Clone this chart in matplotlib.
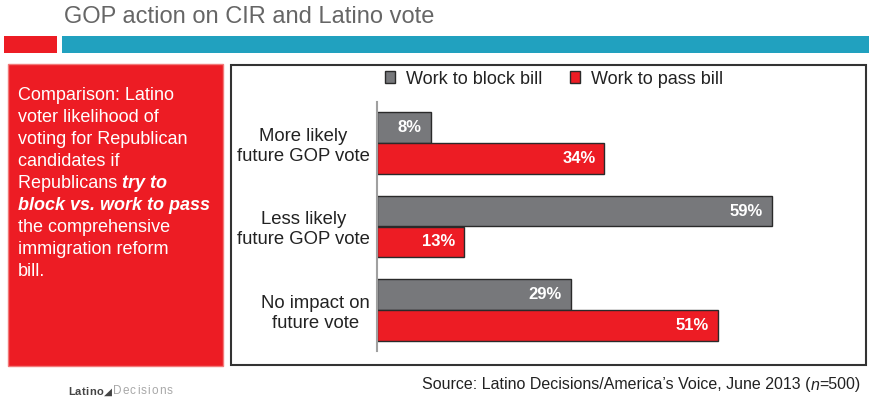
import matplotlib.pyplot as plt
from matplotlib.patches import Rectangle
import numpy as np

plt.rcParams['font.family'] = ['Liberation Sans', 'DejaVu Sans']

categories = ['More likely\nfuture GOP vote', 'Less likely\nfuture GOP vote', 'No impact on\nfuture vote']
block_vals = [8, 59, 29]
pass_vals = [34, 13, 51]
series_names = ['Work to block bill', 'Work to pass bill']

RED = '#ED1C24'
GREY = '#77787B'
TEAL = '#21A1BF'

W, H = 870, 400
fig = plt.figure(figsize=(8.7, 4.0), dpi=100)

# background axes in pixel coordinates (origin top-left)
bg = fig.add_axes([0, 0, 1, 1])
bg.set_xlim(0, W)
bg.set_ylim(H, 0)
bg.axis('off')
bg.set_zorder(0)

# header
bg.text(64, 17, 'GOP action on CIR and Latino vote', fontsize=17,
        color='#666666', va='center', ha='left')
bg.add_patch(Rectangle((4, 36), 53, 17, facecolor=RED, edgecolor='none'))
bg.add_patch(Rectangle((62, 36), 808, 17, facecolor=TEAL, edgecolor='none'))

# red side box
bg.add_patch(Rectangle((8, 64), 215, 302, facecolor=RED, edgecolor='#F27A7A', lw=1))

fs = 13
lines = ['Comparison: Latino', 'voter likelihood of', 'voting for Republican',
         'candidates if', None, None, 'the comprehensive', 'immigration reform', 'bill.']
y0 = 96
for i, ln in enumerate(lines):
    if ln is None:
        continue
    bg.text(18, y0 + i * 22, ln, fontsize=fs, color='white', va='center', ha='left')
t = bg.text(18, y0 + 4 * 22, 'Republicans ', fontsize=fs, color='white',
            va='center', ha='left')
bg.annotate('try to', xy=(1, 0), xycoords=t, va='bottom', ha='left', fontsize=fs,
            color='white', fontweight='bold', fontstyle='italic', annotation_clip=False)
bg.text(18, y0 + 5 * 22, 'block vs. work to pass', fontsize=fs, color='white',
        fontweight='bold', fontstyle='italic', va='center', ha='left')

# chart frame
bg.add_patch(Rectangle((231, 65), 635, 300, facecolor='white', edgecolor='#333333', lw=1.5))

# bar chart
ax = fig.add_axes([377 / W, 1 - 351 / H, 469 / W, 249 / H])
ax.set_zorder(1)
y = np.arange(len(categories))
h = 0.37
b1 = ax.barh(y - h / 2, block_vals, height=h, color=GREY, edgecolor='#2a2a2a', lw=1)
b2 = ax.barh(y + h / 2, pass_vals, height=h, color=RED, edgecolor='#2a2a2a', lw=1)
for bars, vals in ((b1, block_vals), (b2, pass_vals)):
    for bar, v in zip(bars, vals):
        ax.annotate(f'{v}%', xy=(bar.get_width(), bar.get_y() + bar.get_height() / 2),
                    xytext=(-6.5, 0), textcoords='offset points', ha='right', va='center',
                    color='white', fontweight='bold', fontsize=12)

ax.set_xlim(0, 70.1)
ax.set_ylim(2.49, -0.49)
ax.set_yticks(y)
ax.set_yticklabels(categories, fontsize=13.3, multialignment='center', color='#222222')
ax.tick_params(axis='y', length=0, pad=5)
ax.set_xticks([])
for s in ['top', 'right', 'bottom']:
    ax.spines[s].set_visible(False)
ax.spines['left'].set_color('#A0A0A0')
ax.spines['left'].set_linewidth(1.5)
ax.patch.set_alpha(0)

# legend
handles = [Rectangle((0, 0), 1, 1, facecolor=GREY, edgecolor='#2a2a2a', lw=1),
           Rectangle((0, 0), 1, 1, facecolor=RED, edgecolor='#2a2a2a', lw=1)]
fig.legend(handles, series_names, loc='center', bbox_to_anchor=(554 / W, 1 - 79 / H),
           ncol=2, frameon=False, fontsize=13, handlelength=0.6, handleheight=0.6,
           handletextpad=0.6, columnspacing=1.5, labelcolor='#222222')

# footer
src = bg.text(422, 385, 'Source: Latino Decisions/America\u2019s Voice, June 2013 (',
              fontsize=11.5, color='#222222', va='center', ha='left')
a1 = bg.annotate('n', xy=(1, 0), xycoords=src, va='bottom', ha='left', fontsize=11.5,
                 color='#222222', fontstyle='italic', annotation_clip=False)
bg.annotate('=500)', xy=(1, 0), xycoords=a1, va='bottom', ha='left', fontsize=11.5,
            color='#222222', annotation_clip=False)

# logo, letters spread out a little
prev = bg.text(68, 392, 'L', fontsize=8, color='#444444', va='center',
               ha='left', fontweight='bold')
for ch in 'atino':
    prev = bg.annotate(ch, xy=(1, 0), xycoords=prev, xytext=(0.2, 0),
                       textcoords='offset points', va='bottom', ha='left', fontsize=8,
                       color='#444444', fontweight='bold', annotation_clip=False)
prev = bg.annotate('\u25e2', xy=(1, 0), xycoords=prev, xytext=(0.5, 0),
                   textcoords='offset points', va='bottom', ha='left', fontsize=7.5,
                   color='#444444', annotation_clip=False, family='DejaVu Sans')
for ch in 'Decisions':
    prev = bg.annotate(ch, xy=(1, 0), xycoords=prev, xytext=(0.8, 0),
                       textcoords='offset points', va='bottom', ha='left', fontsize=8.5,
                       color='#A8A8A8', annotation_clip=False)

fig.savefig('out.png', dpi=100)
